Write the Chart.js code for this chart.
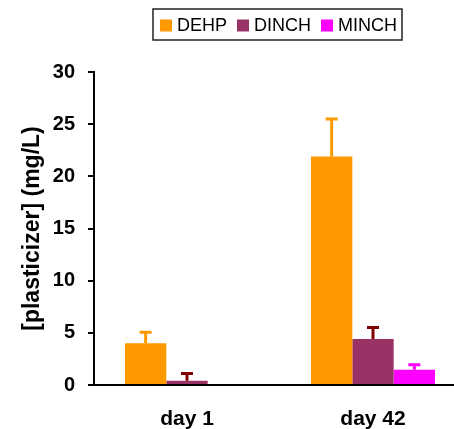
<!DOCTYPE html>
<html>
<head>
<meta charset="utf-8">
<script src="https://cdn.jsdelivr.net/npm/chart.js@4/dist/chart.umd.min.js"></script>
<style>
html,body{margin:0;padding:0;background:#fff;overflow:hidden;}
#wrap{position:relative;width:470px;height:429px;}
</style>
</head>
<body>
<div id="wrap"><canvas id="c" width="470" height="429"></canvas></div>
<script>
const categories = ['day 1', 'day 42'];
const seriesNames = ['DEHP', 'DINCH', 'MINCH'];
const dehp = [4.0, 21.9];
const dinch = [0.4, 4.4];
const minch = [0, 1.45];
const dehpErr = [1.05, 3.6];
const dinchErr = [0.7, 1.1];
const minchErr = [0, 0.5];
const yTicks = [0, 5, 10, 15, 20, 25, 30];
const yTitle = '[plasticizer] (mg/L)';

const barColors = ['#FF9900', '#993366', '#FF00FF'];
const errColors = ['#FF9900', '#800000', '#FF00FF'];
const errs = [dehpErr, dinchErr, minchErr];

const errorBars = {
  id: 'errorBars',
  afterDatasetsDraw(chart) {
    const ctx = chart.ctx;
    const y = chart.scales.y;
    chart.data.datasets.forEach((ds, i) => {
      const meta = chart.getDatasetMeta(i);
      meta.data.forEach((bar, j) => {
        const e = errs[i][j];
        if (!e) return;
        const y0 = y.getPixelForValue(ds.data[j]);
        const y1 = y.getPixelForValue(ds.data[j] + e);
        ctx.save();
        ctx.strokeStyle = errColors[i];
        ctx.lineWidth = 3;
        ctx.beginPath();
        ctx.moveTo(bar.x, y0);
        ctx.lineTo(bar.x, y1);
        ctx.moveTo(bar.x - 6, y1);
        ctx.lineTo(bar.x + 6, y1);
        ctx.stroke();
        ctx.restore();
      });
    });
  }
};

const boxLegend = {
  id: 'boxLegend',
  afterDraw(chart, args, opts) {
    const ctx = chart.ctx;
    ctx.save();
    ctx.font = '18px "Liberation Sans", Arial, sans-serif';
    const sq = 12, gap = 5, itemGap = 10, padL = 7, padR = 5;
    const widths = chart.data.datasets.map(d => ctx.measureText(d.label).width);
    let total = padL + padR;
    widths.forEach((w, i) => { total += sq + gap + w + (i > 0 ? itemGap : 0); });
    const left = opts.left, top = opts.top, h = opts.height;
    ctx.strokeStyle = '#222';
    ctx.lineWidth = 1.5;
    ctx.strokeRect(left, top, total, h);
    let x = left + padL;
    const cy = top + h / 2;
    chart.data.datasets.forEach((d, i) => {
      ctx.fillStyle = d.backgroundColor;
      ctx.fillRect(x, cy - sq / 2 + 1, sq, sq);
      x += sq + gap;
      ctx.fillStyle = '#000';
      ctx.textBaseline = 'middle';
      ctx.fillText(d.label, x, cy + 1.5);
      x += widths[i] + itemGap;
    });
    ctx.restore();
  }
};

new Chart(document.getElementById('c'), {
  type: 'bar',
  data: {
    labels: categories,
    datasets: [
      { label: seriesNames[0], data: dehp, backgroundColor: barColors[0] },
      { label: seriesNames[1], data: dinch, backgroundColor: barColors[1] },
      { label: seriesNames[2], data: minch, backgroundColor: barColors[2] }
    ]
  },
  options: {
    responsive: false,
    animation: false,
    devicePixelRatio: 1,
    layout: { padding: { top: 72, right: 4, bottom: 0, left: 0 } },
    datasets: { bar: { categoryPercentage: 0.667, barPercentage: 1.0, borderWidth: 0 } },
    plugins: {
      legend: { display: false },
      tooltip: { enabled: false },
      boxLegend: { left: 153, top: 9, height: 31 }
    },
    scales: {
      x: {
        grid: { display: false },
        border: { display: true, color: '#000', width: 2 },
        ticks: { color: '#000', padding: 14, font: { family: '"Liberation Sans", Arial, sans-serif', size: 21, weight: 'bold' } },
        afterFit(s) { s.height = 44; }
      },
      y: {
        min: 0, max: 30,
        afterBuildTicks(s) { s.ticks = yTicks.map(v => ({ value: v })); },
        grid: { drawOnChartArea: false, drawTicks: true, tickLength: 6, color: '#000', lineWidth: 2 },
        border: { display: true, color: '#000', width: 2 },
        ticks: { color: '#000', padding: 13, font: { family: '"Liberation Sans", Arial, sans-serif', size: 20, weight: 'bold' } },
        title: { display: true, text: yTitle, color: '#000', padding: { top: 19, bottom: 0 }, font: { family: '"Liberation Sans", Arial, sans-serif', size: 23, weight: 'bold' } },
        afterFit(s) { s.width = 94; }
      }
    }
  },
  plugins: [errorBars, boxLegend]
});
</script>
</body>
</html>
